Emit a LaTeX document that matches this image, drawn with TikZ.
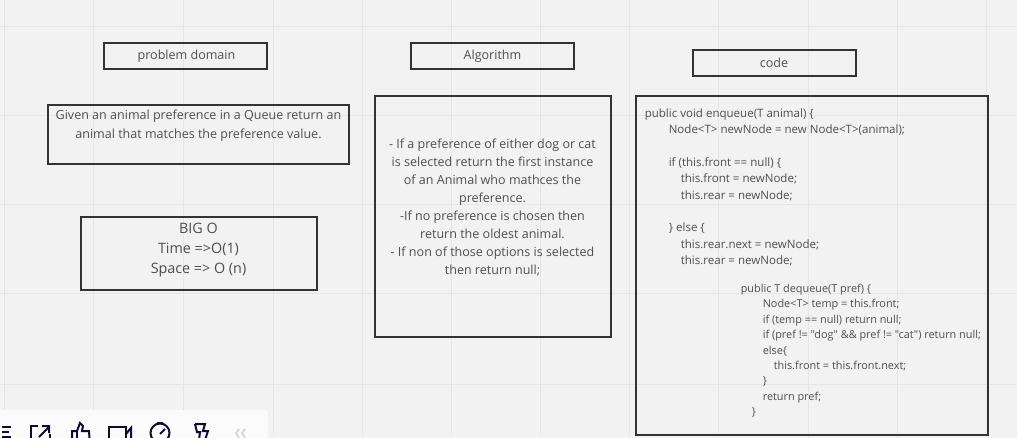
\documentclass[tikz,border=0pt]{standalone}
\usepackage{fontspec}
\setmainfont{Open Sans}
\newfontfamily\codefont{Open Sans}
\definecolor{boardbg}{HTML}{F2F2F2}
\definecolor{gridline}{HTML}{E6E6E6}
\definecolor{boxline}{HTML}{333333}
\definecolor{boxtext}{HTML}{4F4F4F}
\definecolor{iconink}{HTML}{0B0B3B}
\tikzset{
  box/.style={draw=boxline, line width=1.5pt, inner sep=0pt},
  label/.style={text=boxtext, font=\fontsize{9.4}{14.2}\selectfont, align=center, inner sep=0pt},
  codetext/.style={text=boxtext, align=left, inner sep=0pt, anchor=north west},
  icon/.style={draw=iconink, line width=1.5pt}
}
\begin{document}
\begin{tikzpicture}[x=0.75pt, y=-0.75pt]
\useasboundingbox (0,0) rectangle (1017,438);
\fill[boardbg] (0,0) rectangle (1017,438);

% board grid
\foreach \x in {4,93,183,273,362,451,540,629,718,808,897,986}
  \draw[gridline, line width=0.75pt] (\x,0) -- (\x,438);
\foreach \y in {27,116,205,294,384}
  \draw[gridline, line width=0.75pt] (0,\y) -- (1017,\y);

% left column
\node at (185.75,56)[box, minimum width=122.6pt, minimum height=19.5pt] (domainbox) {};
\node at (186.5,56)[label] (domaintext) {problem domain};
\node at (198.5,134.5)[box, minimum width=225.75pt, minimum height=44.25pt] (givenbox) {};
\node at (198.5,125.5)[label] (giventext) {Given an animal preference in a Queue return an\\animal that matches the preference value.};
\node at (199,253.5)[box, minimum width=177pt, minimum height=54.75pt] (bigobox) {};
\node at (198.5,250.5)[label, font=\fontsize{10.75}{15}\selectfont] (bigotext) {BIG O\\Time =>O(1)\\Space => O (n)};

% middle column
\node at (492.5,56)[box, minimum width=122.25pt, minimum height=19.5pt] (algobox) {};
\node at (492.5,56)[label] (algotitle) {Algorithm};
\node at (493,216.5)[box, minimum width=177pt, minimum height=180.75pt] (stepsbox) {};
\node at (492.5,207.5)[label, font=\fontsize{9.4}{13.5}\selectfont] (stepstext) {- If a preference of either dog or cat\\is selected return the first instance\\of an Animal who mathces the\\preference.\\-If no preference is chosen then\\return the oldest animal.\\- If non of those options is selected\\then return null;};

% right column
\node at (774.5,63)[box, minimum width=122.25pt, minimum height=19.5pt] (codetitlebox) {};
\node at (774,62.5)[label] (codetitle) {code};
\node at (812,265.5)[box, minimum width=264pt, minimum height=254.25pt] (codebox) {};
\node at (644.5,108.5)[codetext, font=\codefont\fontsize{8.65}{12.25}\selectfont] (enqueuecode) {public void enqueue(T animal) \{\\
\hspace{18pt}Node<T> newNode = new Node<T>(animal);\\[12.25pt]
\hspace{18pt}if (this.front == null) \{\\
\hspace{27pt}this.front = newNode;\\
\hspace{27pt}this.rear = newNode;\\[12.25pt]
\hspace{18pt}\} else \{\\
\hspace{27pt}this.rear.next = newNode;\\
\hspace{27pt}this.rear = newNode;};
\node at (740.5,284)[codetext, font=\codefont\fontsize{8.16}{11.55}\selectfont] (dequeuecode) {public T dequeue(T pref) \{\\
\hspace{16.5pt}Node<T> temp = this.front;\\
\hspace{16.5pt}if (temp == null) return null;\\
\hspace{16.5pt}if (pref != "dog" \&\& pref != "cat") return null;\\
\hspace{16.5pt}else\{\\
\hspace{24.75pt}this.front = this.front.next;\\
\hspace{16.5pt}\}\\
\hspace{16.5pt}return pref;\\
\hspace{8.25pt}\}};

% toolbar along the bottom edge
\begin{scope}
\clip (0,0) rectangle (1017,438);
\fill[white!70!boardbg, rounded corners=3pt] (-10,410) rectangle (268,450);
\draw[icon] (2,427) -- (11,427) (2,432) -- (9,432) (2,437) -- (11,437);
\draw[icon] (38,426) -- (31,426) -- (31,445) -- (50,445) -- (50,434);
\draw[icon] (39,437) -- (49,427) (42,426) -- (49,426) -- (49,433);
\draw[icon] (72,445) -- (72,431) -- (77,431) -- (80,423) -- (83,426) -- (82,431) -- (89,431) -- (90,445);
\draw[icon] (77,431) -- (77,445);
\draw[icon] (109,427) rectangle (126,445);
\draw[icon] (126,434) -- (131,428) -- (131,445);
\draw[icon] (160,433) circle (9.5);
\draw[icon] (160,434) -- (165,429) (157,423) -- (163,423);
\draw[icon] (195,424) -- (205,424) -- (203,431) -- (208,431) -- (205,440) (195,424) -- (197,432) -- (200,432) -- (199,440);
\draw[gray!35, line width=1.2pt] (239,429) -- (236,433) -- (239,438) (245,429) -- (242,433) -- (245,438);
\end{scope}
\end{tikzpicture}
\end{document}
